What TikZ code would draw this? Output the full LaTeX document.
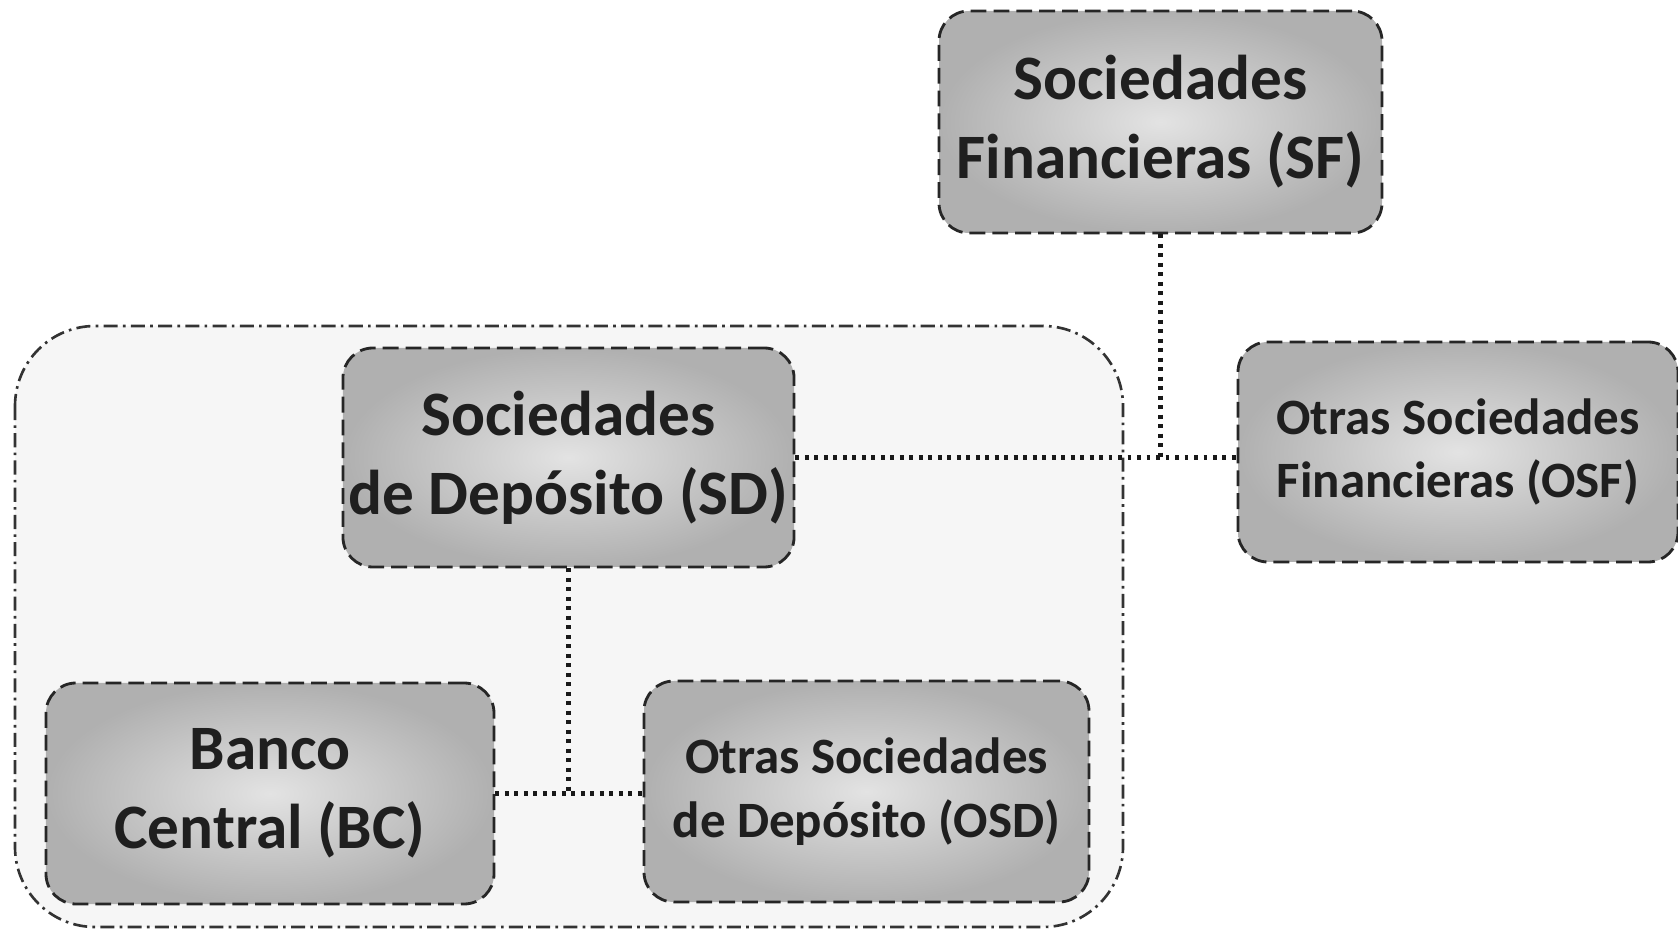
\documentclass[tikz,border=0pt]{standalone}
\usepackage{xcolor}
\usepackage{fontspec}
\setmainfont{Carlito}
\usepackage{tikz}

\tikzset{
    caja/.style={draw=black!85, line width=1.6pt, dash pattern=on 9pt off 4pt, rounded corners=0.6cm,
        inner color=gray!22, outer color=gray!62, text=black!88, font=\bfseries, align=center},
    grande/.style={caja, font=\bfseries\fontsize{36}{45}\selectfont},
    chica/.style={caja, font=\bfseries\fontsize{29}{36}\selectfont},
    enlace/.style={black!90, line width=2.4pt, dash pattern=on 2.2pt off 3.2pt}
}

\begin{document}
\begin{tikzpicture}
        \useasboundingbox (0,0) rectangle (33.56,-18.6);
        \draw[black!80, line width=1.5pt, fill=gray!7, rounded corners=1.6cm,
            dash pattern=on 8pt off 3pt on 1.5pt off 3pt] (0.3,-6.52) rectangle (22.46,-18.54);

        \node[grande, minimum width=8.86cm, minimum height=4.44cm] (sf) at (23.21,-2.44) {Sociedades\\Financieras (SF)};
        \node[grande, minimum width=8.94cm, minimum height=4.38cm] (sd) at (11.37,-9.15) {Sociedades\\de Depósito (SD)};
        \node[chica, minimum width=8.8cm, minimum height=4.4cm] (osf) at (29.16,-9.04) {Otras Sociedades\\Financieras (OSF)};
        \node[grande, minimum width=8.96cm, minimum height=4.42cm] (bc) at (5.4,-15.87) {Banco\\Central (BC)};
        \node[chica, minimum width=8.9cm, minimum height=4.42cm] (osd) at (17.33,-15.83) {Otras Sociedades\\de Depósito (OSD)};

        \draw[enlace] (sd.east) -- (sd.east -| osf.west);
        \draw[enlace] (sf.south) -- (sf.south |- sd.east);
        \draw[enlace] (bc.east) -- (bc.east -| osd.west);
        \draw[enlace] (sd.south) -- (sd.south |- bc.east);
    \end{tikzpicture}
\end{document}
